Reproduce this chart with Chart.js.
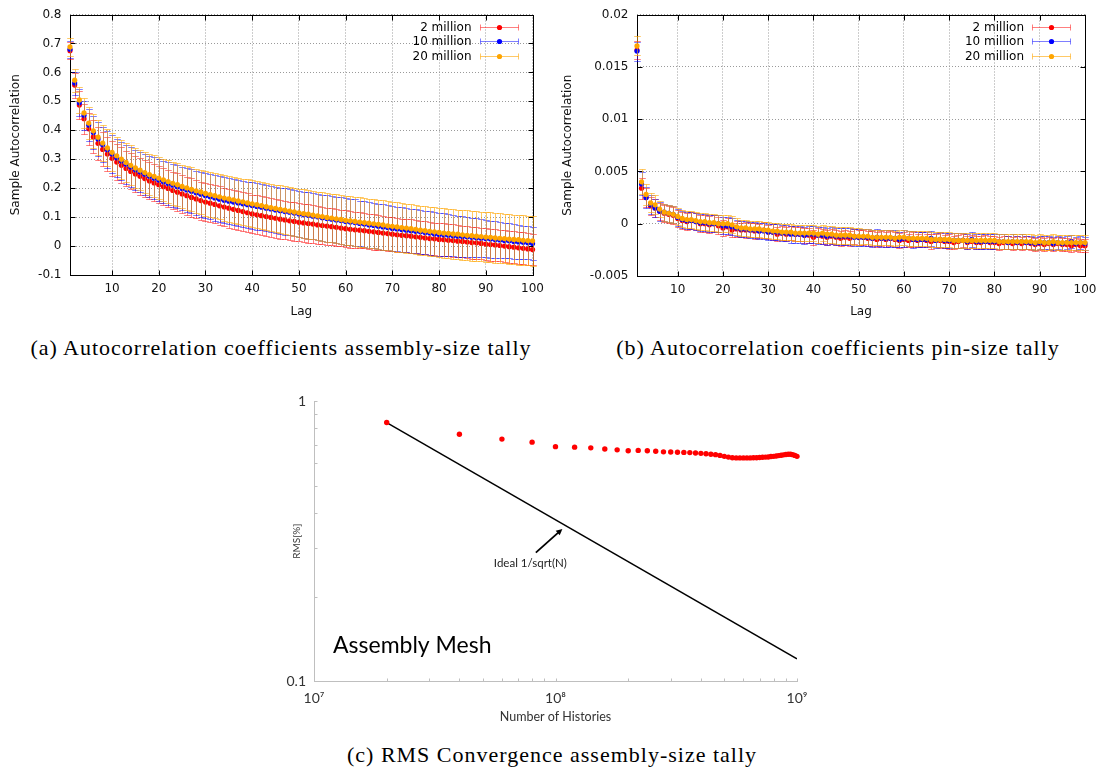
<!DOCTYPE html>
<html>
<head>
<meta charset="utf-8">
<script src="https://cdn.jsdelivr.net/npm/chart.js@4.4.0/dist/chart.umd.min.js"></script>
<style>
html,body{margin:0;padding:0;background:#fff;}
body{width:1105px;height:776px;position:relative;overflow:hidden;}
.panel{position:absolute;}
.cap{position:absolute;width:640px;text-align:center;white-space:nowrap;font-family:"Liberation Serif",serif;font-size:22px;letter-spacing:1px;line-height:24px;color:#000;}
</style>
</head>
<body>
<div class="panel" style="left:0;top:0;width:552px;height:330px"><canvas id="asmChart"></canvas></div>
<div class="panel" style="left:552px;top:0;width:553px;height:330px"><canvas id="pinChart"></canvas></div>
<div class="panel" style="left:260px;top:385px;width:560px;height:345px"><canvas id="rmsChart"></canvas></div>
<div class="cap" style="left:-39px;top:336px">(a) Autocorrelation coefficients assembly-size tally</div>
<div class="cap" style="left:518px;top:336px">(b) Autocorrelation coefficients pin-size tally</div>
<div class="cap" style="left:232px;top:743px">(c) RMS Convergence assembly-size tally</div>
<script>
// lag categories 1..100
const lags = Array.from({length: 100}, (_, i) => i + 1);
const lagTicks = [10, 20, 30, 40, 50, 60, 70, 80, 90, 100];
const seriesLabels = ['2 million', '10 million', '20 million'];

// (a) assembly-size tally
const asmTicks = [-0.1, 0, 0.1, 0.2, 0.3, 0.4, 0.5, 0.6, 0.7, 0.8];
const asm2M = [0.675,0.556,0.487,0.440,0.405,0.377,0.355,0.334,0.318,0.303,
  0.290,0.279,0.268,0.258,0.249,0.241,0.233,0.225,0.218,0.212,
  0.205,0.199,0.192,0.186,0.180,0.174,0.168,0.163,0.157,0.152,
  0.148,0.144,0.139,0.135,0.131,0.127,0.123,0.119,0.115,0.111,
  0.108,0.105,0.102,0.099,0.096,0.093,0.090,0.087,0.085,0.082,
  0.080,0.078,0.076,0.073,0.071,0.069,0.067,0.065,0.062,0.060,
  0.058,0.056,0.055,0.053,0.051,0.049,0.047,0.045,0.043,0.041,
  0.039,0.037,0.036,0.034,0.032,0.030,0.028,0.026,0.025,0.023,
  0.022,0.020,0.019,0.017,0.016,0.014,0.012,0.011,0.009,0.007,
  0.005,0.004,0.002,0.000,-0.002,-0.004,-0.006,-0.008,-0.010,-0.012];
const asm10M = [0.680,0.563,0.495,0.452,0.418,0.392,0.370,0.350,0.333,0.318,
  0.305,0.294,0.283,0.273,0.264,0.256,0.248,0.241,0.234,0.228,
  0.222,0.216,0.210,0.205,0.199,0.194,0.189,0.184,0.179,0.174,
  0.170,0.166,0.162,0.158,0.155,0.152,0.149,0.146,0.143,0.140,
  0.137,0.134,0.131,0.128,0.125,0.122,0.119,0.117,0.114,0.111,
  0.108,0.106,0.103,0.101,0.098,0.095,0.093,0.090,0.088,0.085,
  0.083,0.081,0.078,0.076,0.073,0.071,0.068,0.066,0.064,0.061,
  0.059,0.057,0.055,0.053,0.051,0.049,0.047,0.045,0.042,0.040,
  0.039,0.037,0.036,0.034,0.033,0.032,0.030,0.029,0.027,0.026,
  0.024,0.023,0.021,0.019,0.018,0.016,0.014,0.013,0.011,0.009];
const asm20M = [0.688,0.573,0.505,0.460,0.425,0.398,0.376,0.356,0.339,0.324,
  0.312,0.300,0.289,0.279,0.270,0.262,0.254,0.247,0.241,0.235,
  0.229,0.223,0.217,0.212,0.206,0.201,0.196,0.191,0.187,0.182,
  0.178,0.174,0.170,0.166,0.163,0.160,0.156,0.153,0.149,0.146,
  0.143,0.140,0.136,0.133,0.130,0.127,0.124,0.121,0.118,0.115,
  0.112,0.110,0.107,0.104,0.102,0.099,0.097,0.094,0.092,0.089,
  0.087,0.085,0.083,0.081,0.079,0.077,0.075,0.073,0.070,0.068,
  0.066,0.064,0.062,0.060,0.058,0.055,0.053,0.051,0.049,0.047,
  0.045,0.044,0.042,0.041,0.039,0.037,0.036,0.034,0.033,0.031,
  0.030,0.028,0.027,0.026,0.024,0.023,0.022,0.020,0.019,0.018];
const asmErr2M = [0.030,0.043,0.048,0.052,0.055,0.057,0.058,0.059,0.060,0.061,
  0.061,0.062,0.062,0.062,0.063,0.063,0.063,0.064,0.064,0.064,
  0.064,0.065,0.065,0.065,0.065,0.065,0.066,0.066,0.066,0.066,
  0.066,0.066,0.067,0.067,0.067,0.067,0.067,0.067,0.067,0.067,
  0.067,0.067,0.067,0.067,0.067,0.067,0.067,0.066,0.066,0.066,
  0.066,0.066,0.065,0.065,0.065,0.064,0.064,0.064,0.063,0.063,
  0.063,0.062,0.062,0.061,0.061,0.061,0.060,0.060,0.059,0.059,
  0.059,0.058,0.058,0.058,0.057,0.057,0.057,0.057,0.056,0.056,
  0.056,0.056,0.056,0.055,0.055,0.055,0.055,0.055,0.055,0.055,
  0.055,0.055,0.055,0.055,0.055,0.055,0.055,0.055,0.055,0.055];
const asmErr10M = [0.030,0.040,0.046,0.050,0.054,0.057,0.059,0.061,0.063,0.064,
  0.065,0.066,0.067,0.068,0.069,0.070,0.071,0.071,0.072,0.073,
  0.073,0.074,0.074,0.075,0.075,0.076,0.076,0.077,0.077,0.078,
  0.078,0.078,0.079,0.079,0.079,0.079,0.080,0.080,0.080,0.080,
  0.080,0.080,0.080,0.080,0.080,0.080,0.080,0.080,0.080,0.080,
  0.080,0.080,0.080,0.080,0.080,0.080,0.080,0.080,0.080,0.080,
  0.080,0.080,0.079,0.079,0.079,0.079,0.078,0.078,0.078,0.078,
  0.077,0.077,0.077,0.076,0.076,0.076,0.075,0.075,0.075,0.075,
  0.074,0.073,0.072,0.071,0.070,0.069,0.068,0.067,0.066,0.065,
  0.064,0.063,0.062,0.061,0.060,0.059,0.058,0.058,0.057,0.057];
const asmErr20M = [0.030,0.040,0.046,0.051,0.055,0.058,0.060,0.062,0.064,0.065,
  0.066,0.067,0.068,0.069,0.070,0.070,0.071,0.071,0.072,0.072,
  0.073,0.073,0.074,0.074,0.075,0.075,0.076,0.076,0.077,0.077,
  0.078,0.078,0.078,0.079,0.079,0.079,0.080,0.080,0.081,0.081,
  0.081,0.082,0.082,0.082,0.082,0.083,0.083,0.083,0.083,0.083,
  0.084,0.084,0.084,0.084,0.084,0.084,0.084,0.085,0.085,0.085,
  0.085,0.085,0.085,0.085,0.085,0.085,0.085,0.085,0.085,0.085,
  0.085,0.085,0.085,0.085,0.085,0.085,0.085,0.085,0.085,0.085,
  0.085,0.085,0.085,0.085,0.086,0.086,0.086,0.086,0.086,0.086,
  0.086,0.086,0.086,0.086,0.086,0.086,0.086,0.086,0.086,0.086];

// (b) pin-size tally
const pinTicks = [-0.005, 0, 0.005, 0.01, 0.015, 0.02];
const pin2M = [0.0166,0.0034,0.0025,0.0017,0.0015,0.0012,0.0010,0.0009,0.0008,0.0005,
  0.0003,0.0002,0.0003,0.0002,0.0000,0.0000,-0.0001,0.0000,-0.0002,-0.0004,
  -0.0003,-0.0006,-0.0005,-0.0006,-0.0006,-0.0006,-0.0007,-0.0007,-0.0006,-0.0008,
  -0.0008,-0.0010,-0.0009,-0.0010,-0.0009,-0.0010,-0.0010,-0.0011,-0.0011,-0.0013,
  -0.0011,-0.0012,-0.0013,-0.0012,-0.0013,-0.0014,-0.0013,-0.0014,-0.0012,-0.0013,
  -0.0013,-0.0014,-0.0014,-0.0015,-0.0014,-0.0015,-0.0014,-0.0015,-0.0016,-0.0015,
  -0.0016,-0.0015,-0.0016,-0.0015,-0.0016,-0.0017,-0.0016,-0.0016,-0.0017,-0.0017,
  -0.0018,-0.0017,-0.0016,-0.0018,-0.0017,-0.0018,-0.0018,-0.0017,-0.0018,-0.0018,
  -0.0019,-0.0018,-0.0018,-0.0019,-0.0018,-0.0019,-0.0018,-0.0019,-0.0020,-0.0019,
  -0.0020,-0.0019,-0.0020,-0.0019,-0.0020,-0.0020,-0.0021,-0.0020,-0.0021,-0.0021];
const pin10M = [0.0165,0.0038,0.0025,0.0018,0.0015,0.0012,0.0011,0.0010,0.0009,0.0006,
  0.0004,0.0003,0.0003,0.0002,0.0001,0.0001,0.0000,0.0000,0.0000,-0.0002,
  -0.0002,-0.0003,-0.0004,-0.0005,-0.0005,-0.0006,-0.0006,-0.0007,-0.0007,-0.0008,
  -0.0008,-0.0008,-0.0009,-0.0009,-0.0010,-0.0010,-0.0010,-0.0011,-0.0010,-0.0010,
  -0.0011,-0.0011,-0.0012,-0.0011,-0.0012,-0.0012,-0.0012,-0.0012,-0.0013,-0.0013,
  -0.0013,-0.0013,-0.0014,-0.0013,-0.0014,-0.0014,-0.0014,-0.0014,-0.0015,-0.0014,
  -0.0014,-0.0015,-0.0015,-0.0015,-0.0015,-0.0014,-0.0016,-0.0015,-0.0016,-0.0016,
  -0.0016,-0.0016,-0.0016,-0.0017,-0.0015,-0.0017,-0.0017,-0.0017,-0.0017,-0.0017,
  -0.0017,-0.0017,-0.0018,-0.0017,-0.0018,-0.0017,-0.0018,-0.0018,-0.0019,-0.0018,
  -0.0018,-0.0018,-0.0019,-0.0018,-0.0019,-0.0018,-0.0017,-0.0019,-0.0018,-0.0019];
const pin20M = [0.0170,0.0040,0.0028,0.0020,0.0018,0.0014,0.0011,0.0010,0.0009,0.0007,
  0.0005,0.0004,0.0004,0.0003,0.0002,0.0002,0.0001,0.0001,0.0000,0.0000,
  0.0000,-0.0001,-0.0003,-0.0004,-0.0004,-0.0005,-0.0005,-0.0005,-0.0006,-0.0006,
  -0.0007,-0.0007,-0.0008,-0.0008,-0.0008,-0.0009,-0.0009,-0.0009,-0.0009,-0.0009,
  -0.0010,-0.0009,-0.0010,-0.0010,-0.0011,-0.0011,-0.0011,-0.0011,-0.0012,-0.0012,
  -0.0012,-0.0012,-0.0013,-0.0013,-0.0013,-0.0013,-0.0013,-0.0014,-0.0013,-0.0013,
  -0.0014,-0.0014,-0.0014,-0.0014,-0.0014,-0.0015,-0.0015,-0.0015,-0.0015,-0.0015,
  -0.0016,-0.0016,-0.0016,-0.0016,-0.0016,-0.0016,-0.0016,-0.0016,-0.0016,-0.0016,
  -0.0017,-0.0017,-0.0017,-0.0017,-0.0017,-0.0017,-0.0017,-0.0017,-0.0018,-0.0017,
  -0.0018,-0.0018,-0.0017,-0.0018,-0.0018,-0.0018,-0.0018,-0.0018,-0.0018,-0.0018];
const pinErr2M = [0.0009,0.0010,0.0009,0.0009,0.0009,0.0008,0.0008,0.0008,0.0008,0.0008,
  0.0008,0.0008,0.0008,0.0008,0.0008,0.0008,0.0008,0.0008,0.0008,0.0008,
  0.0008,0.0007,0.0008,0.0007,0.0008,0.0007,0.0008,0.0007,0.0008,0.0007,
  0.0008,0.0007,0.0007,0.0007,0.0007,0.0007,0.0007,0.0007,0.0007,0.0007,
  0.0007,0.0007,0.0007,0.0007,0.0007,0.0007,0.0007,0.0007,0.0007,0.0007,
  0.0007,0.0007,0.0007,0.0007,0.0007,0.0007,0.0007,0.0007,0.0007,0.0007,
  0.0006,0.0007,0.0006,0.0007,0.0006,0.0007,0.0006,0.0007,0.0006,0.0007,
  0.0006,0.0006,0.0006,0.0006,0.0006,0.0006,0.0006,0.0006,0.0006,0.0006,
  0.0006,0.0006,0.0006,0.0006,0.0006,0.0006,0.0006,0.0006,0.0006,0.0006,
  0.0006,0.0006,0.0006,0.0006,0.0006,0.0006,0.0006,0.0006,0.0006,0.0006];
const pinErr10M = [0.0009,0.0011,0.0010,0.0009,0.0009,0.0009,0.0008,0.0008,0.0008,0.0008,
  0.0008,0.0008,0.0008,0.0008,0.0008,0.0008,0.0008,0.0008,0.0008,0.0008,
  0.0008,0.0008,0.0008,0.0008,0.0008,0.0008,0.0008,0.0008,0.0008,0.0008,
  0.0008,0.0008,0.0008,0.0008,0.0008,0.0008,0.0008,0.0008,0.0008,0.0008,
  0.0008,0.0008,0.0008,0.0008,0.0008,0.0008,0.0008,0.0008,0.0008,0.0008,
  0.0008,0.0008,0.0008,0.0008,0.0008,0.0008,0.0008,0.0008,0.0007,0.0008,
  0.0007,0.0008,0.0007,0.0007,0.0007,0.0007,0.0007,0.0007,0.0007,0.0007,
  0.0007,0.0007,0.0007,0.0007,0.0007,0.0007,0.0007,0.0007,0.0007,0.0007,
  0.0007,0.0007,0.0006,0.0007,0.0006,0.0007,0.0006,0.0006,0.0006,0.0006,
  0.0006,0.0006,0.0006,0.0006,0.0006,0.0006,0.0006,0.0006,0.0006,0.0006];
const pinErr20M = [0.0009,0.0012,0.0010,0.0009,0.0009,0.0008,0.0008,0.0008,0.0008,0.0008,
  0.0008,0.0008,0.0008,0.0008,0.0008,0.0008,0.0008,0.0008,0.0008,0.0008,
  0.0008,0.0008,0.0008,0.0008,0.0008,0.0008,0.0008,0.0008,0.0008,0.0008,
  0.0008,0.0008,0.0008,0.0008,0.0008,0.0008,0.0008,0.0008,0.0008,0.0008,
  0.0008,0.0008,0.0008,0.0008,0.0008,0.0008,0.0008,0.0008,0.0008,0.0008,
  0.0007,0.0007,0.0007,0.0007,0.0007,0.0007,0.0007,0.0007,0.0007,0.0007,
  0.0007,0.0007,0.0007,0.0007,0.0007,0.0007,0.0007,0.0007,0.0007,0.0007,
  0.0007,0.0007,0.0007,0.0007,0.0007,0.0007,0.0007,0.0007,0.0007,0.0007,
  0.0007,0.0007,0.0007,0.0007,0.0007,0.0007,0.0007,0.0007,0.0007,0.0007,
  0.0007,0.0007,0.0007,0.0007,0.0007,0.0007,0.0007,0.0007,0.0007,0.0007];

// (c) RMS convergence
const histories = [2e7,4e7,6e7,8e7,1e8,1.2e8,1.4e8,1.6e8,1.8e8,2e8,
  2.2e8,2.4e8,2.6e8,2.8e8,3e8,3.2e8,3.4e8,3.6e8,3.8e8,4e8,
  4.2e8,4.4e8,4.6e8,4.8e8,5e8,5.2e8,5.4e8,5.6e8,5.8e8,6e8,
  6.2e8,6.4e8,6.6e8,6.8e8,7e8,7.2e8,7.4e8,7.6e8,7.8e8,8e8,
  8.2e8,8.4e8,8.6e8,8.8e8,9e8,9.2e8,9.4e8,9.6e8,9.8e8,1e9];
const rmsPct = [0.840,0.763,0.733,0.715,0.689,0.686,0.682,0.676,0.671,0.666,
  0.668,0.666,0.663,0.660,0.659,0.658,0.657,0.656,0.654,0.652,
  0.650,0.647,0.645,0.641,0.636,0.632,0.629,0.628,0.628,0.628,
  0.628,0.628,0.629,0.629,0.630,0.631,0.632,0.633,0.635,0.636,
  0.638,0.640,0.642,0.644,0.646,0.647,0.647,0.645,0.641,0.636];
const idealHistories = [2e7, 1e9];
const idealRms = [0.84, 0.12];
const rmsXTicks = [1e7, 1e8, 1e9];
const rmsYTicks = [0.1, 1];
const noteArrowFrom = [8.29e7, 0.288];
const noteArrowTo = [1.068e8, 0.350];
const noteTextAt = [7.87e7, 0.264];

const sansFont = 'DejaVu Sans';

function fmt(v){ return String(Number(v.toFixed(4))); }

// gnuplot-like error bars, drawn just before each dataset's points
const errorBars = {
  id: 'errorBars',
  beforeDatasetDraw(chart, args){
    const ds = chart.data.datasets[args.index];
    if(!ds.errors) return;
    const {ctx, scales: {x, y}} = chart;
    ctx.save();
    ctx.strokeStyle = ds.errorColor;
    ctx.lineWidth = 1;
    ds.data.forEach((p, i) => {
      const px = Math.round(x.getPixelForValue(p.x)) + 0.5;
      const hi = Math.round(y.getPixelForValue(p.y + ds.errors[i])) + 0.5;
      const lo = Math.round(y.getPixelForValue(p.y - ds.errors[i])) + 0.5;
      ctx.beginPath();
      ctx.moveTo(px, hi); ctx.lineTo(px, lo);
      ctx.moveTo(px - 3.3, hi); ctx.lineTo(px + 3.3, hi);
      ctx.moveTo(px - 3.3, lo); ctx.lineTo(px + 3.3, lo);
      ctx.stroke();
    });
    ctx.restore();
  }
};

// full box border with inward ticks
const gnuFrame = {
  id: 'gnuFrame',
  beforeDatasetsDraw(chart){
    const {ctx, chartArea: a, scales: {x, y}} = chart;
    const L = Math.round(a.left) + 0.5, R = Math.round(a.right) + 0.5;
    const T = Math.round(a.top) + 0.5, B = Math.round(a.bottom) + 0.5;
    ctx.save();
    ctx.strokeStyle = '#000';
    ctx.lineWidth = 1;
    ctx.strokeRect(L, T, R - L, B - T);
    ctx.beginPath();
    x.ticks.forEach(t => {
      const px = Math.round(x.getPixelForValue(t.value)) + 0.5;
      ctx.moveTo(px, B); ctx.lineTo(px, B - 5);
      ctx.moveTo(px, T); ctx.lineTo(px, T + 5);
    });
    y.ticks.forEach(t => {
      const py = Math.round(y.getPixelForValue(t.value)) + 0.5;
      ctx.moveTo(L, py); ctx.lineTo(L + 5, py);
      ctx.moveTo(R, py); ctx.lineTo(R - 5, py);
    });
    ctx.stroke();
    ctx.restore();
  }
};

// key in the top right corner, gnuplot style
const gnuKey = {
  id: 'gnuKey',
  afterDraw(chart){
    const {ctx, chartArea: a} = chart;
    ctx.save();
    ctx.font = '12px "' + sansFont + '"';
    ctx.textAlign = 'right';
    ctx.textBaseline = 'middle';
    chart.data.datasets.forEach((ds, i) => {
      const yy = Math.round(a.top + 12.5 + i * 14.4) + 0.5;
      ctx.fillStyle = '#000';
      ctx.fillText(ds.label, a.right - 61, yy);
      const x0 = Math.round(a.right - 53) + 0.5, x1 = Math.round(a.right - 15) + 0.5;
      ctx.strokeStyle = ds.errorColor;
      ctx.lineWidth = 1;
      ctx.beginPath();
      ctx.moveTo(x0, yy); ctx.lineTo(x1, yy);
      ctx.moveTo(x0, yy - 3); ctx.lineTo(x0, yy + 3);
      ctx.moveTo(x1, yy - 3); ctx.lineTo(x1, yy + 3);
      ctx.stroke();
      ctx.fillStyle = ds.pointBackgroundColor;
      ctx.beginPath();
      ctx.arc((x0 + x1) / 2, yy, 2.6, 0, Math.PI * 2);
      ctx.fill();
    });
    ctx.restore();
  }
};

function createErrorChart(id, series, yTicks, yAxisWidth, pad, xAxisHeight, yTitlePad){
  const datasets = series.map((s, i) => ({
    label: s.label,
    data: lags.map((l, k) => ({x: l, y: s.values[k]})),
    errors: s.errors,
    errorColor: s.errorColor,
    showLine: false,
    pointRadius: 2.6,
    pointBorderWidth: 0,
    pointBackgroundColor: s.color,
    borderColor: s.color,
    order: series.length - i,
    clip: false
  }));
  const tickFont = {family: sansFont, size: 12, lineHeight: 1};
  const titleFont = {family: sansFont, size: 12, lineHeight: 1.2};
  return new Chart(document.getElementById(id), {
    type: 'scatter',
    data: {datasets: datasets},
    plugins: [gnuFrame, errorBars, gnuKey],
    options: {
      responsive: true, maintainAspectRatio: false, animation: false, devicePixelRatio: 1,
      layout: {padding: pad},
      plugins: {legend: {display: false}, tooltip: {enabled: false}},
      scales: {
        x: {
          type: 'linear', min: 1, max: 100,
          afterBuildTicks: s => { s.ticks = lagTicks.map(v => ({value: v})); },
          afterFit: s => { s.height = xAxisHeight; },
          grid: {color: '#9a9a9a', lineWidth: 1, drawTicks: false},
          border: {display: false, dash: [1, 2]},
          ticks: {font: tickFont, color: '#111', padding: 8, maxRotation: 0, autoSkip: false, callback: v => fmt(v)},
          title: {display: true, text: 'Lag', font: titleFont, color: '#111', padding: {top: 0, bottom: 11}}
        },
        y: {
          type: 'linear', min: yTicks[0], max: yTicks[yTicks.length - 1],
          afterBuildTicks: s => { s.ticks = yTicks.map(v => ({value: v})); },
          afterFit: s => { s.width = yAxisWidth; },
          grid: {color: '#9a9a9a', lineWidth: 1, drawTicks: false},
          border: {display: false, dash: [1, 2]},
          ticks: {font: tickFont, color: '#111', padding: 8.5, autoSkip: false, callback: v => fmt(v)},
          title: {display: true, text: 'Sample Autocorrelation', font: titleFont, color: '#111', padding: {top: yTitlePad, bottom: 0}}
        }
      }
    }
  });
}

createErrorChart('asmChart', [
  {label: seriesLabels[0], values: asm2M, errors: asmErr2M, color: '#ff0000', errorColor: 'rgba(255,0,0,0.5)'},
  {label: seriesLabels[1], values: asm10M, errors: asmErr10M, color: '#0000ff', errorColor: 'rgba(0,0,255,0.5)'},
  {label: seriesLabels[2], values: asm20M, errors: asmErr20M, color: '#ffa500', errorColor: 'rgba(255,165,0,0.6)'}
], asmTicks, 70, {top: 6, right: 19, left: 0, bottom: 0}, 55, 8.6);

createErrorChart('pinChart', [
  {label: seriesLabels[0], values: pin2M, errors: pinErr2M, color: '#ff0000', errorColor: 'rgba(255,0,0,0.5)'},
  {label: seriesLabels[1], values: pin10M, errors: pinErr10M, color: '#0000ff', errorColor: 'rgba(0,0,255,0.5)'},
  {label: seriesLabels[2], values: pin20M, errors: pinErr20M, color: '#ffa500', errorColor: 'rgba(255,165,0,0.6)'}
], pinTicks, 85, {top: 7, right: 20, left: 0, bottom: 0}, 54, 9.1);

// (c) notes, arrow and inward minor ticks
const sup = {7: '\u2077', 8: '\u2078', 9: '\u2079'};
const rmsNotes = {
  id: 'rmsNotes',
  afterDatasetsDraw(chart){
    const {ctx, chartArea: a, scales: {x, y}} = chart;
    ctx.save();
    ctx.strokeStyle = '#bfbfbf';
    ctx.lineWidth = 1;
    ctx.beginPath();
    const B = Math.round(a.bottom) + 0.5, L = Math.round(a.left) + 0.5;
    x.ticks.forEach(t => {
      const px = Math.round(x.getPixelForValue(t.value)) + 0.5;
      ctx.moveTo(px, B); ctx.lineTo(px, B - 3);
    });
    y.ticks.forEach(t => {
      const py = Math.round(y.getPixelForValue(t.value)) + 0.5;
      ctx.moveTo(L, py); ctx.lineTo(L + 3, py);
    });
    ctx.stroke();

    // arrow to the ideal line
    const fx = x.getPixelForValue(noteArrowFrom[0]), fy = y.getPixelForValue(noteArrowFrom[1]);
    const tx = x.getPixelForValue(noteArrowTo[0]), ty = y.getPixelForValue(noteArrowTo[1]);
    const ang = Math.atan2(ty - fy, tx - fx);
    const head = 7;
    ctx.strokeStyle = '#000';
    ctx.fillStyle = '#000';
    ctx.lineWidth = 1.8;
    ctx.beginPath();
    ctx.moveTo(fx, fy);
    ctx.lineTo(tx - head * 0.8 * Math.cos(ang), ty - head * 0.8 * Math.sin(ang));
    ctx.stroke();
    ctx.beginPath();
    ctx.moveTo(tx, ty);
    ctx.lineTo(tx - head * Math.cos(ang - 0.45), ty - head * Math.sin(ang - 0.45));
    ctx.lineTo(tx - head * Math.cos(ang + 0.45), ty - head * Math.sin(ang + 0.45));
    ctx.closePath();
    ctx.fill();

    ctx.font = '11.5px Lato';
    ctx.textAlign = 'center';
    ctx.textBaseline = 'middle';
    ctx.fillStyle = '#222';
    ctx.fillText('Ideal 1/sqrt(N)', x.getPixelForValue(noteTextAt[0]), y.getPixelForValue(noteTextAt[1]));

    ctx.font = '23px Lato';
    ctx.textAlign = 'left';
    ctx.textBaseline = 'alphabetic';
    ctx.fillStyle = '#000';
    ctx.fillText('Assembly Mesh', a.left + 19, a.bottom - 28);
    ctx.restore();
  }
};

function decadeTicks(lo, hi){
  // ticks at 1..9 times each power of ten between lo and hi
  const out = [];
  for(let p = lo; p < hi; p *= 10){
    for(let m = 1; m < 10; m++) out.push({value: m * p});
  }
  out.push({value: hi});
  return out;
}

new Chart(document.getElementById('rmsChart'), {
  type: 'scatter',
  data: {
    datasets: [
      {label: 'RMS', data: histories.map((n, i) => ({x: n, y: rmsPct[i]})), showLine: false,
       pointRadius: 2.7, pointBorderWidth: 0, pointBackgroundColor: '#ff0000', borderColor: '#ff0000', clip: false},
      {label: 'Ideal 1/sqrt(N)', data: idealHistories.map((n, i) => ({x: n, y: idealRms[i]})), showLine: true,
       borderColor: '#000', borderWidth: 1.5, pointRadius: 0, fill: false}
    ]
  },
  plugins: [rmsNotes],
  options: {
    responsive: true, maintainAspectRatio: false, animation: false, devicePixelRatio: 1,
    layout: {padding: {top: 15, right: 23, left: 0, bottom: 0}},
    plugins: {legend: {display: false}, tooltip: {enabled: false}},
    scales: {
      x: {
        type: 'logarithmic', min: rmsXTicks[0], max: rmsXTicks[rmsXTicks.length - 1],
        afterBuildTicks: s => { s.ticks = decadeTicks(rmsXTicks[0], rmsXTicks[rmsXTicks.length - 1]); },
        afterFit: s => { s.height = 49; },
        grid: {display: true, drawOnChartArea: false, drawTicks: false},
        border: {display: true, color: '#bfbfbf', width: 1},
        ticks: {
          font: {family: 'Lato', size: 14, lineHeight: 1.2}, color: '#333', padding: 9, maxRotation: 0, autoSkip: false,
          callback: v => {
            const e = Math.round(Math.log10(v));
            return rmsXTicks.some(d => Math.abs(d - v) < 1) ? '10' + sup[e] : '';
          }
        },
        title: {display: true, text: 'Number of Histories', font: {family: 'Lato', size: 12.5, lineHeight: 1.2}, color: '#333', padding: {top: 0, bottom: 5.5}}
      },
      y: {
        type: 'logarithmic', min: rmsYTicks[0], max: rmsYTicks[rmsYTicks.length - 1],
        afterBuildTicks: s => { s.ticks = decadeTicks(rmsYTicks[0], rmsYTicks[rmsYTicks.length - 1]); },
        afterFit: s => { s.width = 54; },
        grid: {display: true, drawOnChartArea: false, drawTicks: false},
        border: {display: true, color: '#bfbfbf', width: 1},
        ticks: {
          font: {family: 'Lato', size: 14, lineHeight: 1.2}, color: '#333', padding: 8, autoSkip: false,
          callback: v => rmsYTicks.some(d => Math.abs(d - v) < 1e-9) ? String(v) : ''
        },
        title: {display: true, text: 'RMS[%]', font: {family: 'Lato', size: 10, lineHeight: 1.2}, color: '#333', padding: {top: 31, bottom: 0}}
      }
    }
  }
});
</script>
</body>
</html>
